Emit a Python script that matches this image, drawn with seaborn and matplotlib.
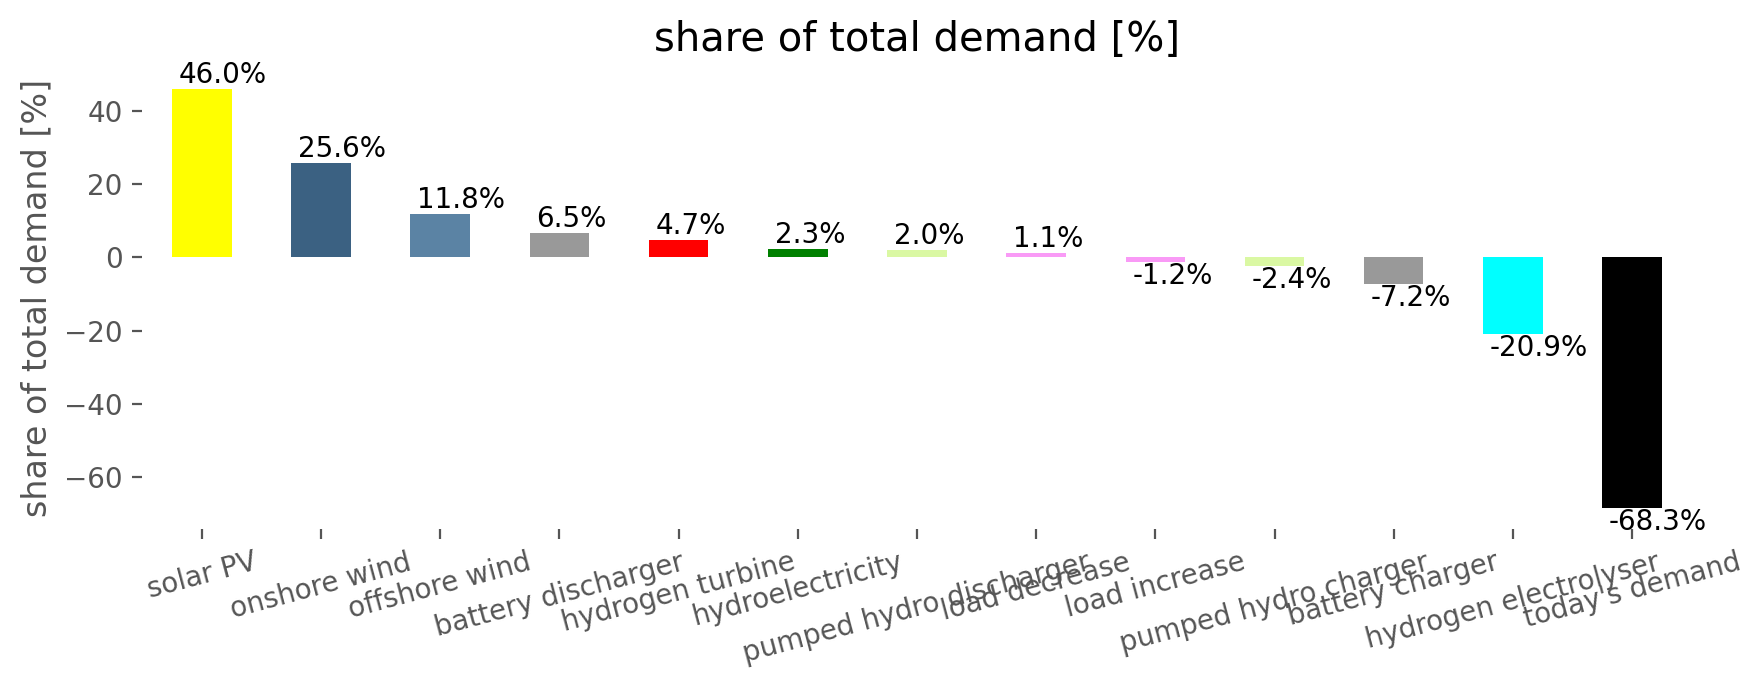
import matplotlib
matplotlib.use("Agg")
import matplotlib.pyplot as plt
import seaborn as sns
import pandas as pd

categories = ["solar PV", "onshore wind", "offshore wind", "battery discharger",
              "hydrogen turbine", "hydroelectricity", "pumped hydro discharger",
              "load decrease", "load increase", "pumped hydro charger",
              "battery charger", "hydrogen electrolyser", "today's demand"]
values = [46.0, 25.6, 11.8, 6.5, 4.7, 2.3, 2.0, 1.1, -1.2, -2.4, -7.2, -20.9, -68.3]
colors = ["#ffff00", "#3b6182", "#5b83a4", "#999999", "#ff0000", "#008000",
          "#daf8a3", "#f99af6", "#f99af6", "#daf8a3", "#999999", "#00ffff", "#000000"]

sns.set_style("white")
plt.rcParams["font.family"] = ["DejaVu Sans"]
plt.rcParams["font.size"] = 10

df = pd.DataFrame({"carrier": categories, "share": values})

fig = plt.figure(figsize=(8.82, 3.445), dpi=200)
ax = fig.add_axes([0.0806, 0.2327, 0.8784, 0.6692])

sns.barplot(data=df, x="carrier", y="share", hue="carrier", palette=colors,
            legend=False, width=0.5, saturation=1, linewidth=0, ax=ax)

ax.set_xlim(-0.5, len(categories) - 0.5)
vmin, vmax = min(values), max(values)
pad = 0.05 * (vmax - vmin)
ax.set_ylim(vmin - pad, vmax + pad)

for i, v in enumerate(values):
    ax.annotate(f"{v:.1f}%", xy=(i - 0.25, v), xytext=(2.4, 0),
                textcoords="offset points", ha="left",
                va="bottom" if v >= 0 else "top", fontsize=10, color="black")

for s in ax.spines.values():
    s.set_visible(False)

ax.tick_params(axis="both", which="major", bottom=True, left=True,
               length=3.5, width=0.8, color="#555555", labelcolor="#555555",
               labelsize=10)
ax.set_xticks(range(len(categories)))
ax.set_xticklabels(categories, rotation=15)
ax.set_xlabel("")
ax.set_ylabel("share of total demand [%]", fontsize=12, color="#555555")
ax.set_title("share of total demand [%]", fontsize=14.4, color="black")

fig.savefig("out.png", dpi=200)
